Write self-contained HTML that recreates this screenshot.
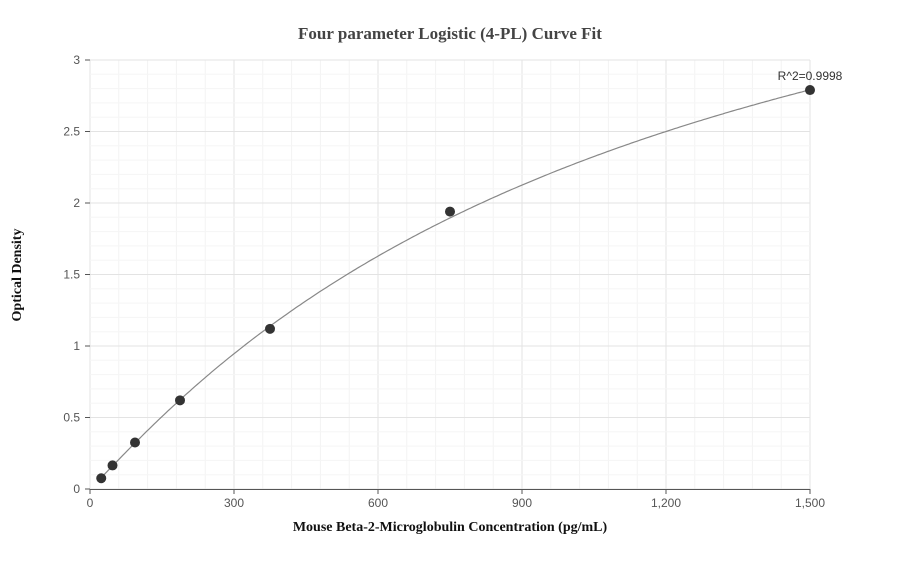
<!DOCTYPE html>
<html><head><meta charset="utf-8"><style>
body{margin:0;background:#fff;font-family:"Liberation Sans",sans-serif}
svg text{font-family:"Liberation Sans",sans-serif}
</style></head><body>
<svg id="chart" width="900" height="560">
<text x="450" y="39" text-anchor="middle" font-family="Liberation Serif" font-weight="bold" font-size="17" fill="#444" style="font-family:'Liberation Serif',serif">Four parameter Logistic (4-PL) Curve Fit</text>
<text x="450" y="531" text-anchor="middle" font-weight="bold" font-size="14" fill="#111" style="font-family:'Liberation Serif',serif">Mouse Beta-2-Microglobulin Concentration (pg/mL)</text>
<text transform="translate(21,275) rotate(-90)" text-anchor="middle" font-weight="bold" font-size="14" fill="#111" style="font-family:'Liberation Serif',serif">Optical Density</text>
<g id="grid"></g><g id="axes"></g><g id="curve"></g><g id="points"></g>
<text x="810" y="80" text-anchor="middle" font-size="12" fill="#333">R^2=0.9998</text>
</svg>
<script>
const xValues=[23.4,46.9,93.75,187.5,375,750,1500];
const yValues=[0.075,0.165,0.325,0.62,1.12,1.94,2.79];
const xTicks=[0,300,600,900,1200,1500];
const xTickLabels=["0","300","600","900","1,200","1,500"];
const yTicks=[0,0.5,1,1.5,2,2.5,3];
const yTickLabels=["0","0.5","1","1.5","2","2.5","3"];
const fitParams=[0.0,1.05,1200,5.0]; // a,b,c,d
const NS="http://www.w3.org/2000/svg";
const X0=90,X1=810,Y0=489,Y1=60;
const sx=v=>X0+(v-0)/(1500-0)*(X1-X0);
const sy=v=>Y0-(v-0)/(3-0)*(Y0-Y1);
function mk(p,t,a){const e=document.createElementNS(NS,t);for(const k in a)e.setAttribute(k,a[k]);p.appendChild(e);return e;}
const grid=document.getElementById('grid'),axes=document.getElementById('axes');
for(let v=0;v<=1500;v+=60){
 const l=mk(grid,'line',{x1:sx(v),x2:sx(v),y1:Y1,y2:Y0,stroke:v%300===0?'#e3e3e3':'#f3f3f3','stroke-width':1});
 
 
}
for(let v=0;v<=3.001;v+=0.1){
 const major=Math.abs(v*2-Math.round(v*2))<1e-6;
 const l=mk(grid,'line',{x1:X0,x2:X1,y1:sy(v),y2:sy(v),stroke:major?'#e3e3e3':'#f5f5f5','stroke-width':1});
 
 
}
const xa=mk(axes,'line',{x1:X0,x2:X1,y1:Y0+0.5,y2:Y0+0.5,stroke:'#555'});


xTicks.forEach((v,i)=>{
 const tk=mk(axes,'line',{x1:sx(v),x2:sx(v),y1:Y0,y2:Y0+5,stroke:'#555'});
 
 
 const t=mk(axes,'text',{x:sx(v),y:Y0+18,'text-anchor':'middle','font-size':12,fill:'#555'});
 t.textContent=xTickLabels[i];
 
 
});
yTicks.forEach((v,i)=>{
 const tk=mk(axes,'line',{x1:X0-5,x2:X0,y1:sy(v),y2:sy(v),stroke:'#555'});
 
 
 const t=mk(axes,'text',{x:X0-10,y:sy(v)+4,'text-anchor':'end','font-size':12,fill:'#555'});
 t.textContent=yTickLabels[i];
 
 
});
const [a,b,c,d]=fitParams;
const f=x=>d+(a-d)/(1+Math.pow(x/c,b));
let pts=[];
for(let x=xValues[0];x<=xValues[xValues.length-1];x+=5)pts.push(sx(x).toFixed(1)+','+sy(f(x)).toFixed(1));
pts.push(sx(xValues[xValues.length-1])+','+sy(f(xValues[xValues.length-1])));
const cv=mk(document.getElementById('curve'),'polyline',{points:pts.join(' '),fill:'none',stroke:'#888','stroke-width':1.2});


xValues.forEach((x,i)=>{
 const p=mk(document.getElementById('points'),'circle',{cx:sx(x),cy:sy(yValues[i]),r:5,fill:'#333'});
 
 
});
</script>
</body></html>
